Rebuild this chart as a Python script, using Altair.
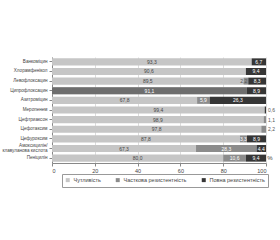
import altair as alt
import pandas as pd

drugs = ["Ванкоміцин", "Хлорамфенікол", "Левофлоксацин", "Ципрофлоксацин",
         "Азитроміцин", "Меропенем", "Цефтриаксон", "Цефотаксим", "Цефуроксим",
         "Амоксицилін/|клавуланова кислота", "Пеніцилін"]
suscept = [93.3, 90.6, 89.5, 91.1, 67.8, 99.4, 98.9, 97.8, 87.8, 67.3, 80.0]
partial = [0, 0, 2.2, 0, 5.9, 0, 1.1, 2.2, 3.3, 28.3, 10.6]
full = [6.7, 9.4, 8.3, 8.9, 26.3, 0.6, 0, 0, 8.9, 4.4, 9.4]
categories = ["Чутливість", "Часткова резистентність", "Повна резистентність"]
colors = ["#c6c6c6", "#8c8c8c", "#363636"]
highlight_drug = "Ципрофлоксацин"

rows = []
for i, d in enumerate(drugs):
    start = 0.0
    for cat, vals in zip(categories, [suscept, partial, full]):
        v = vals[i]
        if v <= 0:
            continue
        end = start + v
        if v < 3:
            if end >= 99.9:
                mode, lx, tc = "out", end, "#555555"
            else:
                mode, lx, tc = "right", end, "#555555"
        else:
            mode, lx = "center", start + v / 2
            if cat == categories[0] and d != highlight_drug:
                tc = "#444444"
            else:
                tc = "#ffffff"
        rows.append(dict(drug=d, cat=cat, start=start, end=end,
                         label=f"{v:.1f}".replace(".", ","), mode=mode, lx=lx, tc=tc,
                         hl=(d == highlight_drug and cat == categories[0])))
        start = end
df = pd.DataFrame(rows)

FONT = "Liberation Sans"
yenc = alt.Y("drug:N", sort=drugs,
             scale=alt.Scale(paddingInner=0.27, paddingOuter=0.14),
             axis=alt.Axis(title=None, labelExpr="split(datum.label, '|')",
                           labelFontSize=4.6, labelColor="#444444", labelPadding=2,
                           tickSize=3, tickColor="#888888", domainColor="#888888",
                           labelLineHeight=5.5,
                           labelOffset={"condition": {"test": "indexof(datum.value, '|') >= 0",
                                                      "value": -3}, "value": 0}))
xscale = alt.Scale(domain=[0, 100], nice=False)
xaxis = alt.Axis(values=list(range(0, 101, 10)), title=None,
                 labelFontSize=5.5, labelColor="#444444", tickSize=3,
                 tickColor="#888888", domainColor="#888888", grid=True,
                 gridColor="#dddddd", labelPadding=2)

base = alt.Chart(df)
bars = base.mark_bar().encode(
    x=alt.X("start:Q", scale=xscale, axis=xaxis),
    x2="end:Q",
    y=yenc,
    color=alt.Color("cat:N", scale=alt.Scale(domain=categories, range=colors),
                    legend=alt.Legend(title=None, orient="none", legendX=10, legendY=117,
                                      direction="horizontal", columns=3,
                                      symbolType="square", symbolSize=16,
                                      symbolStrokeWidth=0, labelFontSize=5.5,
                                      labelColor="#444444", columnPadding=14,
                                      strokeColor="#999999", padding=3,
                                      labelOffset=3, labelLimit=120)),
)
hl = base.transform_filter("datum.hl").mark_bar(color="#6e6e6e").encode(
    x="start:Q", x2="end:Q", y=alt.Y("drug:N", sort=drugs))

def txt(mode, align, dx):
    return base.transform_filter(f"datum.mode == '{mode}'").mark_text(
        align=align, baseline="middle", fontSize=5, dx=dx, font=FONT).encode(
        x="lx:Q", y=alt.Y("drug:N", sort=drugs), text="label:N",
        color=alt.Color("tc:N", scale=None))

pct = alt.Chart(pd.DataFrame({"t": ["%"]})).mark_text(
    fontSize=6, color="#444444", baseline="bottom", align="center", font=FONT).encode(
    x=alt.value(218), y=alt.value(104), text="t:N")

chart = alt.layer(bars, hl, txt("center", "center", 0), txt("right", "right", -1),
                  txt("out", "left", 2), pct).properties(
    width=214, height=106,
    padding={"left": 52, "top": 57, "right": 14, "bottom": 77},
    autosize="none",
).configure(font=FONT).configure_view(stroke=None)

chart.save("out.html", embed_options={"renderer": "svg", "actions": False})
